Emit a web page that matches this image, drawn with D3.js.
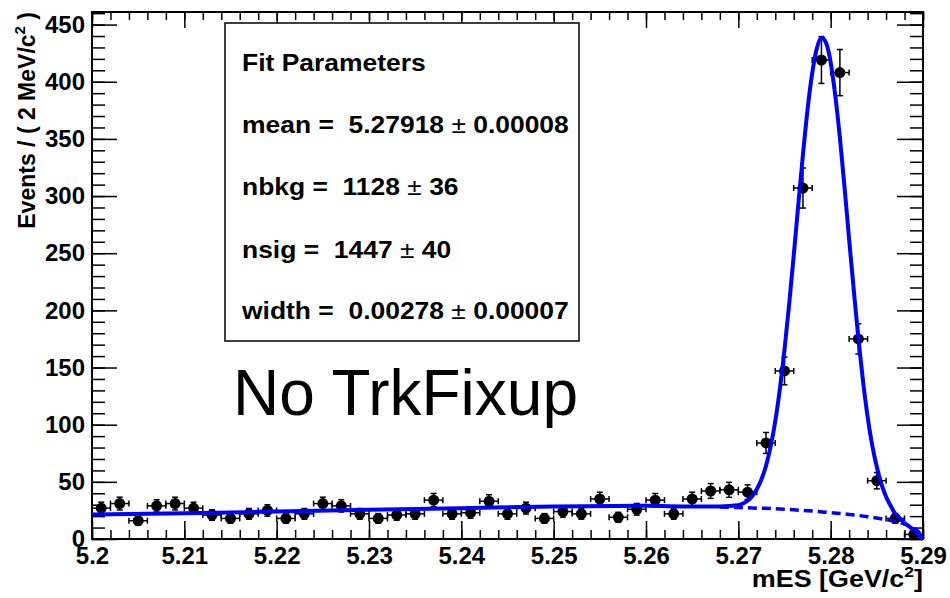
<!DOCTYPE html>
<html>
<head>
<meta charset="utf-8">
<script src="https://cdn.jsdelivr.net/npm/d3@7/dist/d3.min.js"></script>
<style>
  body { margin: 0; background: #fff; }
  svg text { font-family: "Liberation Sans", Arial, Helvetica, sans-serif; }
  .bold { font-weight: bold; }
  .axis .domain { display: none; }
  .axis line { stroke: #000; stroke-width: 1.5; }
</style>
</head>
<body>
<div id="chart"></div>
<script>
// histogram bins of mES (centres, 2 MeV wide)
const massBins = [5.201, 5.203, 5.205, 5.207, 5.209, 5.211, 5.213, 5.215, 5.217, 5.219,
  5.221, 5.223, 5.225, 5.227, 5.229, 5.231, 5.233, 5.235, 5.237, 5.239,
  5.241, 5.243, 5.245, 5.247, 5.249, 5.251, 5.253, 5.255, 5.257, 5.259,
  5.261, 5.263, 5.265, 5.267, 5.269, 5.271, 5.273, 5.275, 5.277, 5.279,
  5.281, 5.283, 5.285, 5.287, 5.289];
const counts = [27, 31, 16, 29, 31, 27, 21, 18, 22, 25,
  18, 22, 31, 29, 22, 18, 21, 22, 34, 22,
  23, 33, 22, 27, 18, 24, 22, 35, 19, 26,
  34, 22, 35, 42, 43, 41, 84, 147, 307, 419,
  408, 175, 51, 18, 4];

// fit curve (signal + background)
const fitMass = [5.200, 5.210, 5.220, 5.230, 5.240, 5.250, 5.260, 5.265, 5.268,
  5.2700, 5.2705, 5.2710, 5.2715, 5.2720, 5.2725, 5.2730, 5.2735, 5.2740, 5.2745,
  5.2750, 5.2755, 5.2760, 5.2765, 5.2770, 5.2775, 5.2780, 5.2785, 5.2790, 5.2795,
  5.2800, 5.2805, 5.2810, 5.2815, 5.2820, 5.2825, 5.2830, 5.2835, 5.2840, 5.2845,
  5.2850, 5.2855, 5.2860, 5.2865, 5.2870, 5.2875, 5.2880, 5.2885, 5.2890, 5.2895, 5.2900];
const fitTotal = [21.5, 22.5, 24, 25.5, 27, 28.5, 29, 28.5, 28.5,
  29.5, 31, 33.5, 37.5, 43.5, 52, 64, 81, 103, 131.5,
  165.5, 205, 248, 293, 336.5, 376, 407.5, 429, 438.5, 434,
  417, 388, 351, 308, 262, 218, 175.5, 138.5, 107, 82,
  63, 48, 37, 29, 22, 18, 14, 11, 8, 4, 0];

// background only (dashed)
const bkgMass = [5.268, 5.270, 5.272, 5.274, 5.276, 5.278, 5.280, 5.282, 5.284,
  5.286, 5.287, 5.288, 5.289, 5.2895, 5.290];
const bkgValues = [28, 27.5, 27, 26.5, 25.5, 24.5, 23, 21.5, 19.5,
  17, 15.5, 13, 9.5, 6.5, 0];

const xTicks = [5.2, 5.21, 5.22, 5.23, 5.24, 5.25, 5.26, 5.27, 5.28, 5.29];
const xTickLabels = ['5.2', '5.21', '5.22', '5.23', '5.24', '5.25', '5.26', '5.27', '5.28', '5.29'];
const yTicks = [0, 50, 100, 150, 200, 250, 300, 350, 400, 450];

const fitLines = [
  ['Fit Parameters'],
  ['mean =  5.27918 ', '\u00b1', ' 0.00008'],
  ['nbkg =  1128 ', '\u00b1', ' 36'],
  ['nsig =  1447 ', '\u00b1', ' 40'],
  ['width =  0.00278 ', '\u00b1', ' 0.00007']
];

function fitPlot() {
  let width = 950;
  let height = 598;
  let margin = {top: 12, right: 27, bottom: 59, left: 92};

  function build(selection) {
    selection.each((d, i, nodes) => {
      let svg = d3.select(nodes[i]).append('svg')
        .attr('width', width)
        .attr('height', height);

      let w = width - margin.left - margin.right;
      let h = height - margin.top - margin.bottom;

      let x = d3.scaleLinear().domain([5.2, 5.29]).range([0, w]);
      let y = d3.scaleLinear().domain([0, 461]).range([h, 0]);

      let g = svg.append('g')
        .attr('transform', `translate(${margin.left},${margin.top})`);

      // minor ticks every 2 MeV / 10 events
      let xMinor = x.ticks(45);
      let yMinor = y.ticks(46);

      g.append('g').attr('class', 'axis')
        .attr('transform', `translate(0,${h})`)
        .call(d3.axisBottom(x).tickValues(xMinor).tickSize(-9).tickFormat(''));
      g.append('g').attr('class', 'axis')
        .call(d3.axisTop(x).tickValues(xMinor).tickSize(-8).tickFormat(''));
      g.append('g').attr('class', 'axis')
        .call(d3.axisLeft(y).tickValues(yMinor).tickSize(-13).tickFormat(''));
      g.append('g').attr('class', 'axis')
        .attr('transform', `translate(${w},0)`)
        .call(d3.axisRight(y).tickValues(yMinor).tickSize(-13).tickFormat(''));

      // major ticks with labels
      let xAxis = g.append('g').attr('class', 'axis')
        .attr('transform', `translate(0,${h})`)
        .call(d3.axisBottom(x).tickValues(xTicks).tickSize(-18).tickPadding(8)
          .tickFormat((v, k) => xTickLabels[k]));
      g.append('g').attr('class', 'axis')
        .call(d3.axisTop(x).tickValues(xTicks).tickSize(-16).tickFormat(''));
      let yAxis = g.append('g').attr('class', 'axis')
        .call(d3.axisLeft(y).tickValues(yTicks).tickSize(-25).tickPadding(7));
      g.append('g').attr('class', 'axis')
        .attr('transform', `translate(${w},0)`)
        .call(d3.axisRight(y).tickValues(yTicks).tickSize(-26).tickFormat(''));

      [xAxis, yAxis].forEach(a => a.selectAll('text')
        .attr('class', 'bold')
        .style('font-size', '24px')
        .attr('fill', '#000'));

      // frame
      g.append('rect')
        .attr('width', w)
        .attr('height', h)
        .attr('fill', 'none')
        .attr('stroke', '#000')
        .attr('stroke-width', 2);

      // fit parameters box (root's helvetica runs wider, hence the stretch)
      let box = g.append('g').attr('transform', `translate(${225 - margin.left},${23 - margin.top})`);
      box.append('rect')
        .attr('width', 354)
        .attr('height', 318)
        .attr('fill', '#fff')
        .attr('stroke', '#000')
        .attr('stroke-width', 1.5);
      let baselines = [48, 110, 172, 235, 296];
      fitLines.forEach((parts, k) => {
        let t = box.append('text')
          .attr('transform', `translate(17,${baselines[k]}) scale(1.15,1)`)
          .style('font-size', '23px')
          .style('white-space', 'pre')
          .attr('class', 'bold');
        parts.forEach((p, j) => {
          t.append('tspan')
            .style('font-weight', j === 1 ? 'normal' : 'bold')
            .text(p);
        });
      });

      g.append('text')
        .attr('x', 233 - margin.left)
        .attr('y', 415 - margin.top)
        .style('font-size', '64px')
        .text('No TrkFixup');

      // data points with poisson errors
      let points = g.append('g').selectAll('g')
        .data(massBins.map((m, k) => ({m: m, n: counts[k]})))
        .enter().append('g');
      let halfBin = 0.001;
      let cap = 3;
      points.append('line')
        .attr('x1', p => x(p.m - halfBin)).attr('x2', p => x(p.m + halfBin))
        .attr('y1', p => y(p.n)).attr('y2', p => y(p.n));
      points.append('line')
        .attr('x1', p => x(p.m)).attr('x2', p => x(p.m))
        .attr('y1', p => y(p.n - Math.sqrt(p.n))).attr('y2', p => y(p.n + Math.sqrt(p.n)));
      [-1, 1].forEach(s => {
        points.append('line')
          .attr('x1', p => x(p.m + s * halfBin)).attr('x2', p => x(p.m + s * halfBin))
          .attr('y1', p => y(p.n) - cap).attr('y2', p => y(p.n) + cap);
        points.append('line')
          .attr('x1', p => x(p.m) - cap).attr('x2', p => x(p.m) + cap)
          .attr('y1', p => y(p.n + s * Math.sqrt(p.n))).attr('y2', p => y(p.n + s * Math.sqrt(p.n)));
      });
      points.selectAll('line')
        .attr('stroke', '#000')
        .attr('stroke-width', 1.5);
      points.append('circle')
        .attr('cx', p => x(p.m))
        .attr('cy', p => y(p.n))
        .attr('r', 5.5)
        .attr('fill', '#000');

      // fit curves
      let line = d3.line()
        .x(p => x(p[0]))
        .y(p => y(p[1]))
        .curve(d3.curveMonotoneX);

      g.append('path')
        .attr('d', line(bkgMass.map((m, k) => [m, bkgValues[k]])))
        .attr('fill', 'none')
        .attr('stroke', '#0000ff')
        .attr('stroke-width', 3.5)
        .attr('stroke-dasharray', '9,5');

      g.append('path')
        .attr('d', line(fitMass.map((m, k) => [m, fitTotal[k]])))
        .attr('fill', 'none')
        .attr('stroke', '#0000ff')
        .attr('stroke-width', 4);

      // axis titles
      let xTitle = svg.append('text')
        .attr('class', 'bold')
        .attr('transform', `translate(${margin.left + w},587) scale(1.17,1)`)
        .attr('text-anchor', 'end')
        .style('font-size', '23px');
      xTitle.append('tspan').text('mES [GeV/c');
      xTitle.append('tspan').attr('dy', -10).style('font-size', '15px').text('2');
      xTitle.append('tspan').attr('dy', 10).text(']');

      let yTitle = svg.append('text')
        .attr('class', 'bold')
        .attr('transform', 'translate(35,12) rotate(-90)')
        .attr('text-anchor', 'end')
        .style('font-size', '23px');
      yTitle.append('tspan').text('Events / ( 2 MeV/c');
      yTitle.append('tspan').attr('dy', -10).style('font-size', '15px').text('2');
      yTitle.append('tspan').attr('dy', 10).text(' )');
    });
  }

  build.width = value => {
    if (typeof value === 'undefined') {
      return width;
    } else {
      width = value;
      return build;
    }
  };

  build.height = value => {
    if (typeof value === 'undefined') {
      return height;
    } else {
      height = value;
      return build;
    }
  };

  return build;
}

d3.select('#chart').call(fitPlot().width(950).height(598));
</script>
</body>
</html>
